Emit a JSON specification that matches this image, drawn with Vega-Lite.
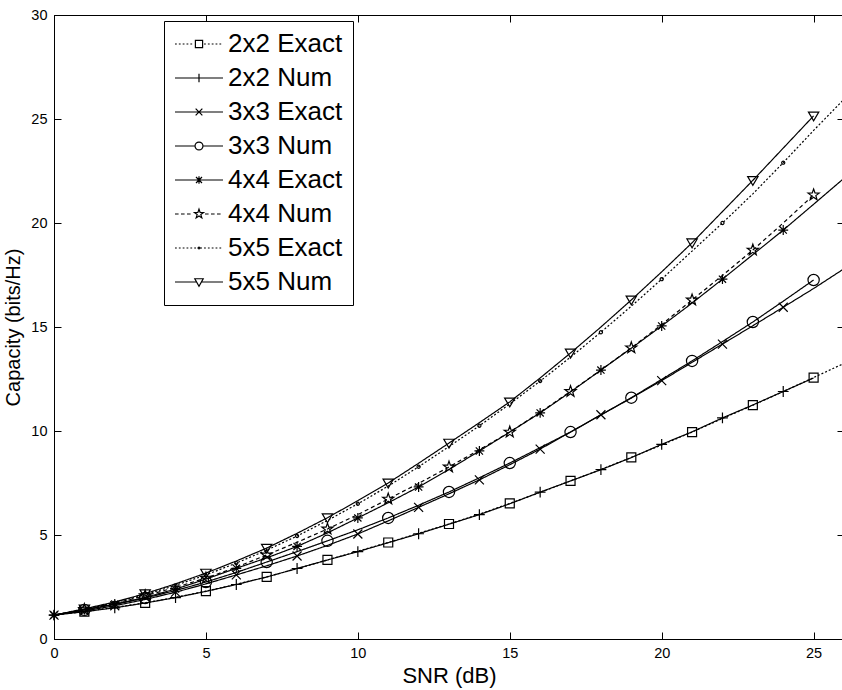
{
  "$schema": "https://vega.github.io/schema/vega-lite/v6.json",
  "width": 790,
  "height": 624,
  "autosize": {"type": "none"},
  "padding": {"left": 54, "top": 15, "right": 0, "bottom": 51},
  "background": "white",
  "config": {
    "font": "Liberation Sans",
    "view": {"stroke": "black", "strokeWidth": 1},
    "axis": {"grid": false, "domainColor": "black", "tickColor": "black", "labelColor": "black", "titleColor": "black", "labelFont": "Liberation Sans", "titleFont": "Liberation Sans", "titleFontWeight": "normal", "labelFontSize": 14.5, "labelFlush": false, "labelOverlap": false, "tickSize": -7, "labelPadding": 14}
  },
  "data": {"values": [
    {"snr":0,"cap":1.15,"series":"2x2 Exact","mk":0},{"snr":1,"cap":1.32,"series":"2x2 Exact","mk":1},{"snr":2,"cap":1.52,"series":"2x2 Exact","mk":0},{"snr":3,"cap":1.74,"series":"2x2 Exact","mk":1},{"snr":4,"cap":2.0,"series":"2x2 Exact","mk":0},{"snr":5,"cap":2.3,"series":"2x2 Exact","mk":1},{"snr":6,"cap":2.63,"series":"2x2 Exact","mk":0},{"snr":7,"cap":2.99,"series":"2x2 Exact","mk":1},{"snr":8,"cap":3.38,"series":"2x2 Exact","mk":0},{"snr":9,"cap":3.8,"series":"2x2 Exact","mk":1},{"snr":10,"cap":4.22,"series":"2x2 Exact","mk":0},{"snr":11,"cap":4.64,"series":"2x2 Exact","mk":1},{"snr":12,"cap":5.08,"series":"2x2 Exact","mk":0},{"snr":13,"cap":5.53,"series":"2x2 Exact","mk":1},{"snr":14,"cap":6.0,"series":"2x2 Exact","mk":0},{"snr":15,"cap":6.52,"series":"2x2 Exact","mk":1},{"snr":16,"cap":7.05,"series":"2x2 Exact","mk":0},{"snr":17,"cap":7.6,"series":"2x2 Exact","mk":1},{"snr":18,"cap":8.15,"series":"2x2 Exact","mk":0},{"snr":19,"cap":8.73,"series":"2x2 Exact","mk":1},{"snr":20,"cap":9.33,"series":"2x2 Exact","mk":0},{"snr":21,"cap":9.95,"series":"2x2 Exact","mk":1},{"snr":22,"cap":10.6,"series":"2x2 Exact","mk":0},{"snr":23,"cap":11.24,"series":"2x2 Exact","mk":1},{"snr":24,"cap":11.9,"series":"2x2 Exact","mk":0},{"snr":25,"cap":12.57,"series":"2x2 Exact","mk":1},{"snr":26,"cap":13.25,"series":"2x2 Exact","mk":0},
    {"snr":0,"cap":1.15,"series":"2x2 Num","mk":1},{"snr":1,"cap":1.31,"series":"2x2 Num","mk":0},{"snr":2,"cap":1.5,"series":"2x2 Num","mk":1},{"snr":3,"cap":1.73,"series":"2x2 Num","mk":0},{"snr":4,"cap":1.99,"series":"2x2 Num","mk":1},{"snr":5,"cap":2.29,"series":"2x2 Num","mk":0},{"snr":6,"cap":2.62,"series":"2x2 Num","mk":1},{"snr":7,"cap":2.98,"series":"2x2 Num","mk":0},{"snr":8,"cap":3.39,"series":"2x2 Num","mk":1},{"snr":9,"cap":3.8,"series":"2x2 Num","mk":0},{"snr":10,"cap":4.2,"series":"2x2 Num","mk":1},{"snr":11,"cap":4.63,"series":"2x2 Num","mk":0},{"snr":12,"cap":5.06,"series":"2x2 Num","mk":1},{"snr":13,"cap":5.52,"series":"2x2 Num","mk":0},{"snr":14,"cap":5.98,"series":"2x2 Num","mk":1},{"snr":15,"cap":6.5,"series":"2x2 Num","mk":0},{"snr":16,"cap":7.06,"series":"2x2 Num","mk":1},{"snr":17,"cap":7.6,"series":"2x2 Num","mk":0},{"snr":18,"cap":8.14,"series":"2x2 Num","mk":1},{"snr":19,"cap":8.72,"series":"2x2 Num","mk":0},{"snr":20,"cap":9.36,"series":"2x2 Num","mk":1},{"snr":21,"cap":9.96,"series":"2x2 Num","mk":0},{"snr":22,"cap":10.63,"series":"2x2 Num","mk":1},{"snr":23,"cap":11.25,"series":"2x2 Num","mk":0},{"snr":24,"cap":11.9,"series":"2x2 Num","mk":1},{"snr":25,"cap":12.55,"series":"2x2 Num","mk":0},
    {"snr":0,"cap":1.15,"series":"3x3 Exact","mk":1},{"snr":1,"cap":1.35,"series":"3x3 Exact","mk":0},{"snr":2,"cap":1.6,"series":"3x3 Exact","mk":1},{"snr":3,"cap":1.9,"series":"3x3 Exact","mk":0},{"snr":4,"cap":2.25,"series":"3x3 Exact","mk":1},{"snr":5,"cap":2.65,"series":"3x3 Exact","mk":0},{"snr":6,"cap":3.08,"series":"3x3 Exact","mk":1},{"snr":7,"cap":3.52,"series":"3x3 Exact","mk":0},{"snr":8,"cap":3.99,"series":"3x3 Exact","mk":1},{"snr":9,"cap":4.5,"series":"3x3 Exact","mk":0},{"snr":10,"cap":5.05,"series":"3x3 Exact","mk":1},{"snr":11,"cap":5.68,"series":"3x3 Exact","mk":0},{"snr":12,"cap":6.33,"series":"3x3 Exact","mk":1},{"snr":13,"cap":6.98,"series":"3x3 Exact","mk":0},{"snr":14,"cap":7.65,"series":"3x3 Exact","mk":1},{"snr":15,"cap":8.38,"series":"3x3 Exact","mk":0},{"snr":16,"cap":9.13,"series":"3x3 Exact","mk":1},{"snr":17,"cap":9.95,"series":"3x3 Exact","mk":0},{"snr":18,"cap":10.78,"series":"3x3 Exact","mk":1},{"snr":19,"cap":11.58,"series":"3x3 Exact","mk":0},{"snr":20,"cap":12.42,"series":"3x3 Exact","mk":1},{"snr":21,"cap":13.3,"series":"3x3 Exact","mk":0},{"snr":22,"cap":14.18,"series":"3x3 Exact","mk":1},{"snr":23,"cap":15.06,"series":"3x3 Exact","mk":0},{"snr":24,"cap":15.95,"series":"3x3 Exact","mk":1},{"snr":25,"cap":16.85,"series":"3x3 Exact","mk":0},{"snr":26,"cap":17.8,"series":"3x3 Exact","mk":0},
    {"snr":0,"cap":1.15,"series":"3x3 Num","mk":0},{"snr":1,"cap":1.4,"series":"3x3 Num","mk":1},{"snr":2,"cap":1.66,"series":"3x3 Num","mk":0},{"snr":3,"cap":1.97,"series":"3x3 Num","mk":1},{"snr":4,"cap":2.33,"series":"3x3 Num","mk":0},{"snr":5,"cap":2.74,"series":"3x3 Num","mk":1},{"snr":6,"cap":3.2,"series":"3x3 Num","mk":0},{"snr":7,"cap":3.7,"series":"3x3 Num","mk":1},{"snr":8,"cap":4.2,"series":"3x3 Num","mk":0},{"snr":9,"cap":4.72,"series":"3x3 Num","mk":1},{"snr":10,"cap":5.25,"series":"3x3 Num","mk":0},{"snr":11,"cap":5.82,"series":"3x3 Num","mk":1},{"snr":12,"cap":6.43,"series":"3x3 Num","mk":0},{"snr":13,"cap":7.07,"series":"3x3 Num","mk":1},{"snr":14,"cap":7.75,"series":"3x3 Num","mk":0},{"snr":15,"cap":8.46,"series":"3x3 Num","mk":1},{"snr":16,"cap":9.2,"series":"3x3 Num","mk":0},{"snr":17,"cap":9.95,"series":"3x3 Num","mk":1},{"snr":18,"cap":10.77,"series":"3x3 Num","mk":0},{"snr":19,"cap":11.6,"series":"3x3 Num","mk":1},{"snr":20,"cap":12.48,"series":"3x3 Num","mk":0},{"snr":21,"cap":13.37,"series":"3x3 Num","mk":1},{"snr":22,"cap":14.3,"series":"3x3 Num","mk":0},{"snr":23,"cap":15.24,"series":"3x3 Num","mk":1},{"snr":24,"cap":16.24,"series":"3x3 Num","mk":0},{"snr":25,"cap":17.26,"series":"3x3 Num","mk":1},
    {"snr":0,"cap":1.15,"series":"4x4 Exact","mk":1},{"snr":1,"cap":1.4,"series":"4x4 Exact","mk":0},{"snr":2,"cap":1.68,"series":"4x4 Exact","mk":1},{"snr":3,"cap":2.0,"series":"4x4 Exact","mk":0},{"snr":4,"cap":2.4,"series":"4x4 Exact","mk":1},{"snr":5,"cap":2.88,"series":"4x4 Exact","mk":0},{"snr":6,"cap":3.4,"series":"4x4 Exact","mk":1},{"snr":7,"cap":3.9,"series":"4x4 Exact","mk":0},{"snr":8,"cap":4.45,"series":"4x4 Exact","mk":1},{"snr":9,"cap":5.1,"series":"4x4 Exact","mk":0},{"snr":10,"cap":5.82,"series":"4x4 Exact","mk":1},{"snr":11,"cap":6.55,"series":"4x4 Exact","mk":0},{"snr":12,"cap":7.31,"series":"4x4 Exact","mk":1},{"snr":13,"cap":8.15,"series":"4x4 Exact","mk":0},{"snr":14,"cap":9.04,"series":"4x4 Exact","mk":1},{"snr":15,"cap":9.95,"series":"4x4 Exact","mk":0},{"snr":16,"cap":10.87,"series":"4x4 Exact","mk":1},{"snr":17,"cap":11.88,"series":"4x4 Exact","mk":0},{"snr":18,"cap":12.93,"series":"4x4 Exact","mk":1},{"snr":19,"cap":13.98,"series":"4x4 Exact","mk":0},{"snr":20,"cap":15.05,"series":"4x4 Exact","mk":1},{"snr":21,"cap":16.15,"series":"4x4 Exact","mk":0},{"snr":22,"cap":17.3,"series":"4x4 Exact","mk":1},{"snr":23,"cap":18.48,"series":"4x4 Exact","mk":0},{"snr":24,"cap":19.66,"series":"4x4 Exact","mk":1},{"snr":25,"cap":20.9,"series":"4x4 Exact","mk":0},{"snr":26,"cap":22.15,"series":"4x4 Exact","mk":0},
    {"snr":0,"cap":1.15,"series":"4x4 Num","mk":0},{"snr":1,"cap":1.42,"series":"4x4 Num","mk":1},{"snr":2,"cap":1.72,"series":"4x4 Num","mk":0},{"snr":3,"cap":2.08,"series":"4x4 Num","mk":1},{"snr":4,"cap":2.48,"series":"4x4 Num","mk":0},{"snr":5,"cap":2.93,"series":"4x4 Num","mk":1},{"snr":6,"cap":3.45,"series":"4x4 Num","mk":0},{"snr":7,"cap":4.04,"series":"4x4 Num","mk":1},{"snr":8,"cap":4.65,"series":"4x4 Num","mk":0},{"snr":9,"cap":5.29,"series":"4x4 Num","mk":1},{"snr":10,"cap":5.98,"series":"4x4 Num","mk":0},{"snr":11,"cap":6.73,"series":"4x4 Num","mk":1},{"snr":12,"cap":7.48,"series":"4x4 Num","mk":0},{"snr":13,"cap":8.27,"series":"4x4 Num","mk":1},{"snr":14,"cap":9.1,"series":"4x4 Num","mk":0},{"snr":15,"cap":9.95,"series":"4x4 Num","mk":1},{"snr":16,"cap":10.9,"series":"4x4 Num","mk":0},{"snr":17,"cap":11.9,"series":"4x4 Num","mk":1},{"snr":18,"cap":12.93,"series":"4x4 Num","mk":0},{"snr":19,"cap":14.0,"series":"4x4 Num","mk":1},{"snr":20,"cap":15.12,"series":"4x4 Num","mk":0},{"snr":21,"cap":16.3,"series":"4x4 Num","mk":1},{"snr":22,"cap":17.48,"series":"4x4 Num","mk":0},{"snr":23,"cap":18.7,"series":"4x4 Num","mk":1},{"snr":24,"cap":20.0,"series":"4x4 Num","mk":0},{"snr":25,"cap":21.35,"series":"4x4 Num","mk":1},
    {"snr":0,"cap":1.15,"series":"5x5 Exact","mk":1},{"snr":1,"cap":1.42,"series":"5x5 Exact","mk":0},{"snr":2,"cap":1.75,"series":"5x5 Exact","mk":1},{"snr":3,"cap":2.13,"series":"5x5 Exact","mk":0},{"snr":4,"cap":2.58,"series":"5x5 Exact","mk":1},{"snr":5,"cap":3.08,"series":"5x5 Exact","mk":0},{"snr":6,"cap":3.65,"series":"5x5 Exact","mk":1},{"snr":7,"cap":4.27,"series":"5x5 Exact","mk":0},{"snr":8,"cap":4.95,"series":"5x5 Exact","mk":1},{"snr":9,"cap":5.7,"series":"5x5 Exact","mk":0},{"snr":10,"cap":6.5,"series":"5x5 Exact","mk":1},{"snr":11,"cap":7.35,"series":"5x5 Exact","mk":0},{"snr":12,"cap":8.28,"series":"5x5 Exact","mk":1},{"snr":13,"cap":9.25,"series":"5x5 Exact","mk":0},{"snr":14,"cap":10.25,"series":"5x5 Exact","mk":1},{"snr":15,"cap":11.3,"series":"5x5 Exact","mk":0},{"snr":16,"cap":12.4,"series":"5x5 Exact","mk":1},{"snr":17,"cap":13.55,"series":"5x5 Exact","mk":0},{"snr":18,"cap":14.75,"series":"5x5 Exact","mk":1},{"snr":19,"cap":16.0,"series":"5x5 Exact","mk":0},{"snr":20,"cap":17.3,"series":"5x5 Exact","mk":1},{"snr":21,"cap":18.65,"series":"5x5 Exact","mk":0},{"snr":22,"cap":20.0,"series":"5x5 Exact","mk":1},{"snr":23,"cap":21.4,"series":"5x5 Exact","mk":0},{"snr":24,"cap":22.9,"series":"5x5 Exact","mk":1},{"snr":25,"cap":24.45,"series":"5x5 Exact","mk":0},{"snr":26,"cap":25.95,"series":"5x5 Exact","mk":0},
    {"snr":0,"cap":1.15,"series":"5x5 Num","mk":0},{"snr":1,"cap":1.45,"series":"5x5 Num","mk":1},{"snr":2,"cap":1.78,"series":"5x5 Num","mk":0},{"snr":3,"cap":2.18,"series":"5x5 Num","mk":1},{"snr":4,"cap":2.65,"series":"5x5 Num","mk":0},{"snr":5,"cap":3.17,"series":"5x5 Num","mk":1},{"snr":6,"cap":3.75,"series":"5x5 Num","mk":0},{"snr":7,"cap":4.37,"series":"5x5 Num","mk":1},{"snr":8,"cap":5.08,"series":"5x5 Num","mk":0},{"snr":9,"cap":5.83,"series":"5x5 Num","mk":1},{"snr":10,"cap":6.65,"series":"5x5 Num","mk":0},{"snr":11,"cap":7.5,"series":"5x5 Num","mk":1},{"snr":12,"cap":8.45,"series":"5x5 Num","mk":0},{"snr":13,"cap":9.42,"series":"5x5 Num","mk":1},{"snr":14,"cap":10.4,"series":"5x5 Num","mk":0},{"snr":15,"cap":11.4,"series":"5x5 Num","mk":1},{"snr":16,"cap":12.55,"series":"5x5 Num","mk":0},{"snr":17,"cap":13.75,"series":"5x5 Num","mk":1},{"snr":18,"cap":15.0,"series":"5x5 Num","mk":0},{"snr":19,"cap":16.3,"series":"5x5 Num","mk":1},{"snr":20,"cap":17.65,"series":"5x5 Num","mk":0},{"snr":21,"cap":19.05,"series":"5x5 Num","mk":1},{"snr":22,"cap":20.55,"series":"5x5 Num","mk":0},{"snr":23,"cap":22.05,"series":"5x5 Num","mk":1},{"snr":24,"cap":23.6,"series":"5x5 Num","mk":0},{"snr":25,"cap":25.15,"series":"5x5 Num","mk":1}
  ]},
  "layer": [
    {
      "mark": {"type": "line", "color": "black", "strokeWidth": 1.2},
      "encoding": {
        "x": {"field": "snr", "type": "quantitative", "scale": {"domain": [0, 26], "nice": false, "zero": false},
              "axis": {"orient": "bottom", "values": [0,5,10,15,20,25], "title": "SNR (dB)", "titleFontSize": 22, "titlePadding": 6}},
        "y": {"field": "cap", "type": "quantitative", "scale": {"domain": [0, 30], "nice": false},
              "axis": {"orient": "left", "values": [0,5,10,15,20,25,30], "title": "Capacity (bits/Hz)", "titleFontSize": 20, "titleX": -35, "titleY": 312, "titleAngle": 270, "titleBaseline": "alphabetic", "titleAlign": "center"}},
        "strokeDash": {"field": "series", "type": "nominal",
          "scale": {"domain": ["2x2 Exact","2x2 Num","3x3 Exact","3x3 Num","4x4 Exact","4x4 Num","5x5 Exact","5x5 Num"],
                    "range": [[2,2],[1,0],[1,0],[1,0],[1,0],[4,3],[2,2],[1,0]]},
          "legend": null}
      }
    },
    {
      "transform": [{"filter": "datum.mk == 1"}],
      "mark": {"type": "point", "color": "black", "filled": false, "size": 81, "strokeWidth": 1.2, "opacity": 1},
      "encoding": {
        "x": {"field": "snr", "type": "quantitative", "axis": {"orient": "top", "values": [0,5,10,15,20,25], "labels": false, "domain": false, "title": null}},
        "y": {"field": "cap", "type": "quantitative", "axis": {"orient": "right", "values": [0,5,10,15,20,25,30], "labels": false, "domain": false, "title": null}},
        "shape": {"field": "series", "type": "nominal",
          "scale": {"domain": ["2x2 Exact","2x2 Num","3x3 Exact","3x3 Num","4x4 Exact","4x4 Num","5x5 Exact","5x5 Num"],
                    "range": [
                      "M-1,-1H1V1H-1Z",
                      "M-1.2,0H1.2M0,-1.2V1.2",
                      "M-1,-1L1,1M-1,1L1,-1",
                      "M-1.25,0A1.25,1.25 0 1,0 1.25,0A1.25,1.25 0 1,0 -1.25,0Z",
                      "M-1.1,0H1.1M0,-1.1V1.1M-0.8,-0.8L0.8,0.8M-0.8,0.8L0.8,-0.8",
                      "M0,-1.3L0.306,-0.421L1.236,-0.402L0.495,0.161L0.764,1.052L0,0.52L-0.764,1.052L-0.495,0.161L-1.236,-0.402L-0.306,-0.421Z",
                      "M-0.35,0A0.35,0.35 0 1,0 0.35,0A0.35,0.35 0 1,0 -0.35,0Z",
                      "M-1.15,-0.85L1.15,-0.85L0,1.1Z"
                    ]},
          "legend": null}
      }
    },
    {
      "mark": {"type": "point", "color": "black", "filled": false, "opacity": 0, "strokeWidth": 1.2},
      "encoding": {
        "x": {"field": "snr", "type": "quantitative", "axis": null},
        "y": {"field": "cap", "type": "quantitative", "axis": null},
        "shape": {"field": "series", "type": "nominal",
          "scale": {"domain": ["2x2 Exact","2x2 Num","3x3 Exact","3x3 Num","4x4 Exact","4x4 Num","5x5 Exact","5x5 Num"],
                    "range": [
                      "M-2,0h0.15M-1.68,0h0.15M-1.36,0h0.15M-1.04,0h0.15M-0.72,0h0.15M0.42,0h0.15M0.74,0h0.15M1.06,0h0.15M1.38,0h0.15M1.7,0h0.15M-0.3,-0.3H0.3V0.3H-0.3Z",
                      "M-2,0H2M0,-0.35V0.35",
                      "M-2,0H2M-0.28,-0.28L0.28,0.28M-0.28,0.28L0.28,-0.28",
                      "M-2,0H-0.33M0.33,0H2M-0.33,0A0.33,0.33 0 1,0 0.33,0A0.33,0.33 0 1,0 -0.33,0Z",
                      "M-2,0H2M0,-0.32V0.32M-0.25,-0.25L0.25,0.25M-0.25,0.25L0.25,-0.25",
                      "M-2,0h0.3M-1.5,0h0.3M-1,0h0.3M0.5,0h0.3M1,0h0.3M1.5,0h0.3M0,-0.4L0.094,-0.129L0.38,-0.124L0.152,0.049L0.235,0.324L0,0.16L-0.235,0.324L-0.152,0.049L-0.38,-0.124L-0.094,-0.129Z",
                      "M-2,0h0.15M-1.68,0h0.15M-1.36,0h0.15M-1.04,0h0.15M-0.72,0h0.15M-0.4,0h0.15M0.1,0h0.15M0.42,0h0.15M0.74,0h0.15M1.06,0h0.15M1.38,0h0.15M1.7,0h0.15M-0.08,0A0.08,0.08 0 1,0 0.08,0A0.08,0.08 0 1,0 -0.08,0Z",
                      "M-2,0H-0.25M0.25,0H2M-0.35,-0.27L0.35,-0.27L0,0.35Z"
                    ]},
          "legend": {"orient": "none", "legendX": 110, "legendY": 6, "title": null, "padding": 10,
                     "strokeColor": "black", "fillColor": "white", "cornerRadius": 0,
                     "labelFontSize": 26, "labelFont": "Liberation Sans", "labelColor": "black", "labelLimit": 400,
                     "symbolSize": 576, "symbolOffset": 12, "labelOffset": 16, "rowPadding": 8,
                     "symbolStrokeColor": "black", "symbolStrokeWidth": 1.2, "symbolOpacity": 1, "symbolFillColor": "transparent"}}
      }
    }
  ],
  "resolve": {"scale": {"shape": "independent"}, "axis": {"x": "independent", "y": "independent"}, "legend": {"shape": "independent"}}
}
